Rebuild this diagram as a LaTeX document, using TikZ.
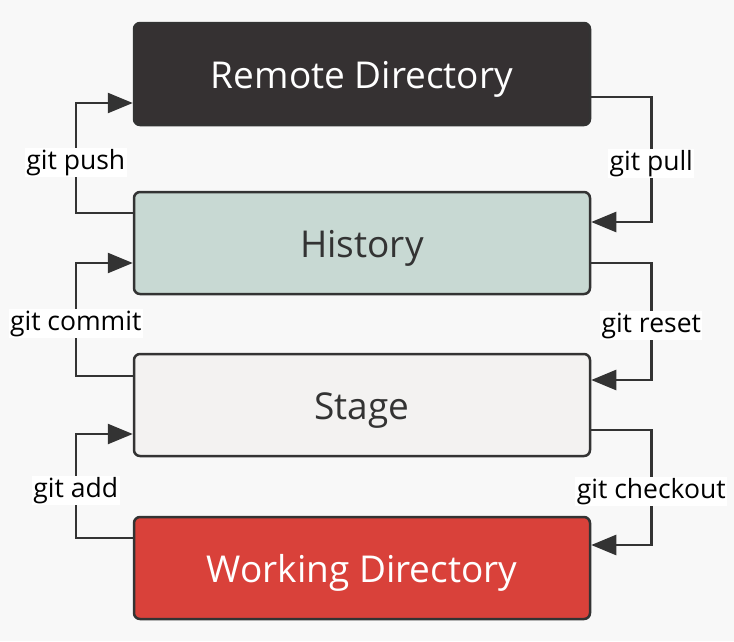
\documentclass[tikz,border=0pt]{standalone}
\usepackage{fontspec}
\setmainfont{Open Sans}
\usetikzlibrary{arrows.meta}
\definecolor{bg}{HTML}{F8F8F8}
\definecolor{linec}{HTML}{333333}
\definecolor{remotec}{HTML}{353132}
\definecolor{histc}{HTML}{C8D9D3}
\definecolor{stagec}{HTML}{F3F2F1}
\definecolor{workc}{HTML}{D9413A}
\begin{document}
\begin{tikzpicture}[x=1pt,y=-1pt,
  box/.style={draw=linec, line width=2.5pt, rounded corners=6pt, minimum width=456pt, minimum height=102pt, inner sep=0pt, text height=30pt, text depth=2pt, font=\fontsize{37}{44}\selectfont},
  lab/.style={fill=white, inner sep=1.5pt, text=black, text height=20pt, text depth=6pt, yshift=-4pt, font=\fontsize{26.5}{30}\selectfont},
  conn/.style={draw=linec, line width=2.5pt, -{Triangle[length=25pt,width=20pt]}}]
\fill[bg] (0,0) rectangle (734,641);
\useasboundingbox (0,0) rectangle (734,641);
\node[box, fill=remotec, text=white] (remote) at (362,74) {Remote Directory};
\node[box, fill=histc, text=linec] (hist) at (362,243) {History};
\node[box, fill=stagec, text=linec] (stage) at (362,405) {Stage};
\node[box, fill=workc, text=white] (work) at (362,568) {Working Directory};
% left side
\draw[conn] ([yshift=30pt]hist.west) -- ++(-57,0) |- ([yshift=-29pt]remote.west) node[pos=0.25, lab] {git push};
\draw[conn] ([yshift=29pt]stage.west) -- ++(-57,0) |- ([yshift=-20pt]hist.west) node[pos=0.25, lab] {git commit};
\draw[conn] ([yshift=30pt]work.west) -- ++(-57,0) |- ([yshift=-29pt]stage.west) node[pos=0.25, lab] {git add};
% right side
\draw[conn] ([yshift=-23pt]remote.east) -- ++(60,0) |- ([yshift=21pt]hist.east) node[pos=0.25, lab] {git pull};
\draw[conn] ([yshift=-20pt]hist.east) -- ++(60,0) |- ([yshift=25pt]stage.east) node[pos=0.25, lab] {git reset};
\draw[conn] ([yshift=-25pt]stage.east) -- ++(60,0) |- ([yshift=23pt]work.east) node[pos=0.25, lab] {git checkout};
\end{tikzpicture}
\end{document}
